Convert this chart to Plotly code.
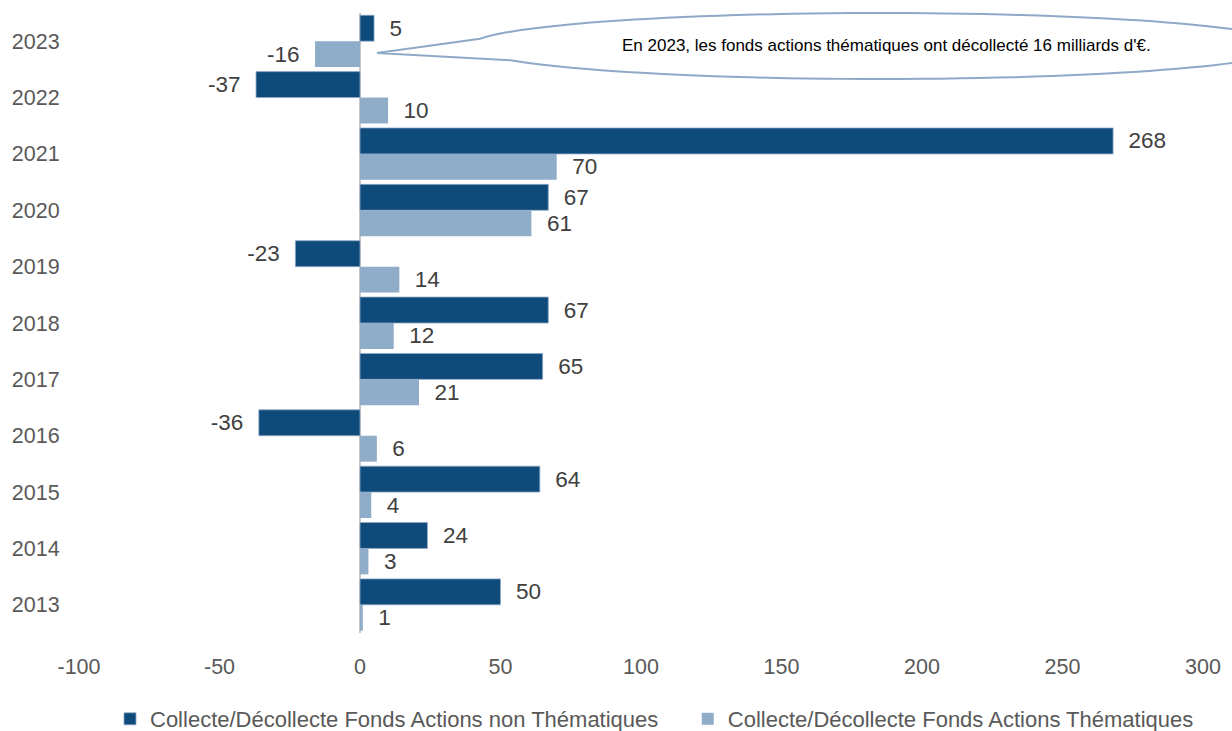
import numpy as np
import plotly.graph_objects as go

years = ["2023", "2022", "2021", "2020", "2019", "2018", "2017", "2016", "2015", "2014", "2013"]
non_thematiques = [5, -37, 268, 67, -23, 67, 65, -36, 64, 24, 50]
thematiques = [-16, 10, 70, 61, 14, 12, 21, 6, 4, 3, 1]
x_ticks = [-100, -50, 0, 50, 100, 150, 200, 250, 300]
x_tick_labels = ["-100", "-50", "0", "50", "100", "150", "200", "250", "300"]
name_non = "Collecte/Décollecte Fonds Actions non Thématiques"
name_them = "Collecte/Décollecte Fonds Actions Thématiques"
callout_text = "En 2023, les fonds actions thématiques ont décollecté 16 milliards d'€."

DARK = "#0E4A7A"
LIGHT = "#8FACC8"
NB = "\u00a0\u00a0"
FONT = "Liberation Sans, Arial"


def labels(vals):
    return [(NB + str(v)) if v >= 0 else (str(v) + NB) for v in vals]


W, H = 1232, 731
L, R, T, B = 79, 29, 13, 98

fig = go.Figure()
fig.add_trace(go.Bar(
    y=years, x=non_thematiques, orientation="h", name=name_non + "\u00a0" * 4,
    marker=dict(color=DARK, line=dict(color="#8FAAC8", width=0.8)),
    text=labels(non_thematiques), textposition="outside",
    textfont=dict(size=22.5, color="#404040", family=FONT),
    cliponaxis=False, constraintext="none",
))
fig.add_trace(go.Bar(
    y=years, x=thematiques, orientation="h", name=name_them,
    marker=dict(color=LIGHT, line=dict(width=0)),
    text=labels(thematiques), textposition="outside",
    textfont=dict(size=22.5, color="#404040", family=FONT),
    cliponaxis=False, constraintext="none",
))

# Speech-bubble callout (pixel geometry converted to paper coords)
pw, ph = W - L - R, H - T - B


def to_paper(px, py):
    return (px - L) / pw, (H - B - py) / ph


cx, cy, rx, ry = 880, 46, 410, 33
tip = (377, 53)
t_start = np.degrees(np.arccos((480 - cx) / rx))
t_end = -np.degrees(np.arccos((510 - cx) / rx))
ts = np.radians(np.linspace(t_start, t_end, 120))
pts = [tip] + [(cx + rx * np.cos(t), cy - ry * np.sin(t)) for t in ts]
path = ""
for i, (px, py) in enumerate(pts):
    xp, yp = to_paper(px, py)
    path += ("M" if i == 0 else "L") + f"{xp:.5f},{yp:.5f} "
path += "Z"
fig.add_shape(type="path", path=path, xref="paper", yref="paper",
              fillcolor="white", line=dict(color="#8EA9C7", width=2), layer="above")
ax, ay = to_paper(886, 45)
fig.add_annotation(x=ax, y=ay, xref="paper", yref="paper", text=callout_text,
                   showarrow=False, xanchor="center", yanchor="middle",
                   font=dict(size=17, color="#000000", family=FONT))

fig.update_layout(
    width=W, height=H,
    margin=dict(l=L, r=R, t=T, b=B, pad=0, autoexpand=False),
    paper_bgcolor="white", plot_bgcolor="white",
    barmode="group", bargap=0.08, bargroupgap=0,
    font=dict(family=FONT, color="#595959"),
    showlegend=True,
    legend=dict(orientation="h", x=(125 - 15) / W, xanchor="left", xref="container",
                y=1 - 719 / H, yanchor="middle", yref="container",
                font=dict(size=22, color="#595959"), itemwidth=30,
                traceorder="normal"),
    xaxis=dict(range=[-100, 300], tickvals=x_ticks, ticktext=x_tick_labels,
               showgrid=False,
               zeroline=True, zerolinecolor="#C8C8C8", zerolinewidth=2,
               showline=False, ticks="outside", ticklen=14,
               tickcolor="rgba(0,0,0,0)",
               tickfont=dict(size=21.5, color="#595959")),
    yaxis=dict(type="category", categoryorder="array", categoryarray=years,
               autorange="reversed", showgrid=False, zeroline=False,
               showline=False, ticks="outside", ticklen=14,
               tickcolor="rgba(0,0,0,0)",
               tickfont=dict(size=21.5, color="#595959")),
)

fig.write_html("out.html")
